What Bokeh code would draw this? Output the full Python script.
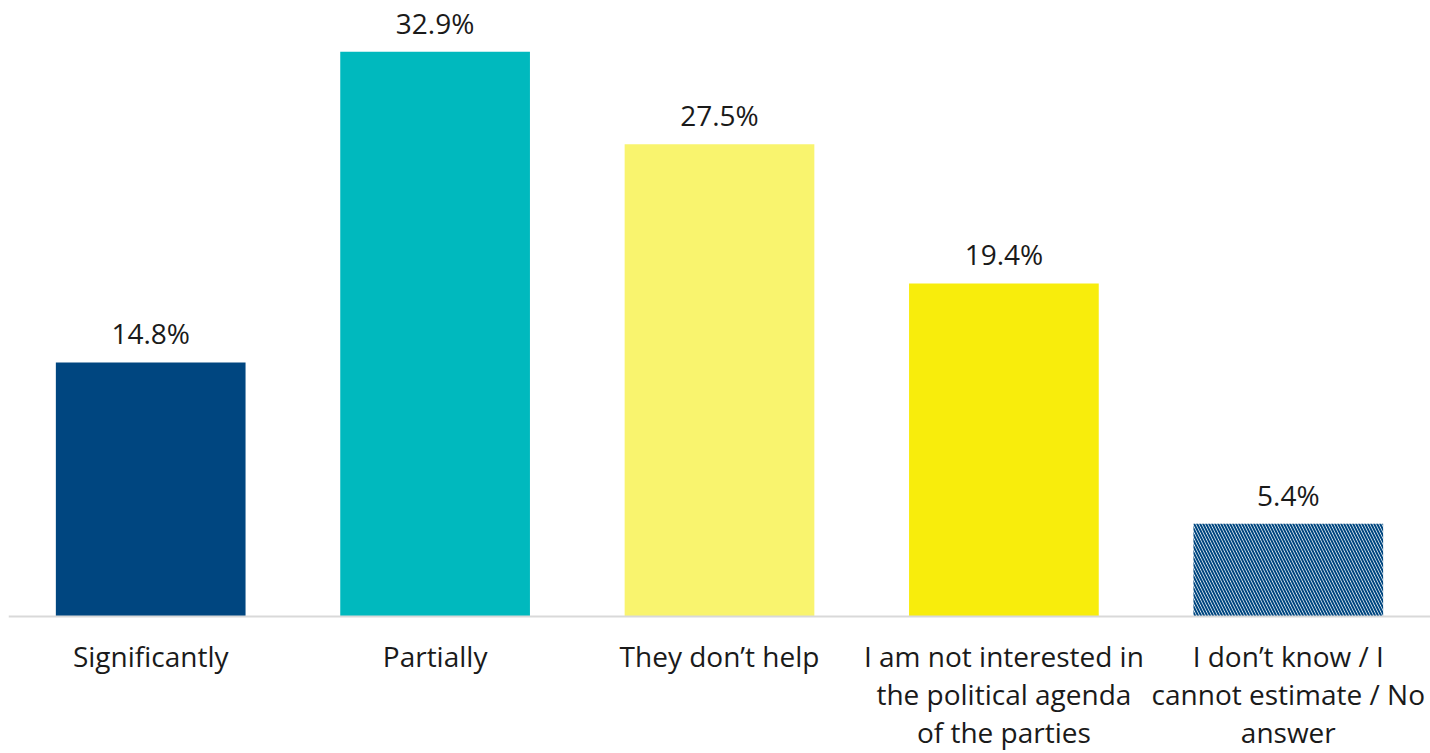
from bokeh.plotting import figure
from bokeh.models import ColumnDataSource, Range1d, Span
from bokeh.core.properties import value
from bokeh.embed import file_html
from bokeh.resources import INLINE

categories = ["Significantly", "Partially", "They don\u2019t help",
              "I am not interested in the political agenda of the parties",
              "I don\u2019t know / I cannot estimate / No answer"]
tick_labels = ["Significantly", "Partially", "They don\u2019t help",
               "I am not interested in\nthe political agenda\nof the parties",
               "I don\u2019t know / I\ncannot estimate / No\nanswer"]
values = [14.8, 32.9, 27.5, 19.4, 5.4]
value_labels = ["14.8%", "32.9%", "27.5%", "19.4%", "5.4%"]
colors = ["#004680", "#00B9BE", "#F9F46E", "#F8ED0C", "#FFFFFF"]
hatches = [" ", " ", " ", " ", "\\"]

FONT = "Open Sans"

src = ColumnDataSource(dict(cat=categories, val=values, lab=value_labels,
                            tick=tick_labels, zero=[0] * len(values),
                            col=colors, hat=hatches))

p = figure(x_range=categories, y_range=Range1d(-7.98, 35.88),
           width=1430, height=753,
           output_backend="svg", toolbar_location=None,
           min_border_left=8, min_border_right=0, min_border_top=0, min_border_bottom=0)

p.vbar(x="cat", top="val", width=0.667, source=src, fill_color="col",
       line_color=None, hatch_pattern="hat", hatch_color="#004680",
       hatch_scale=6, hatch_weight=2.0)

p.add_layout(Span(location=0, dimension="width", line_color="#D9D9D9", line_width=2))

p.text(x="cat", y="val", text="lab", source=src, text_align="center",
       text_baseline="bottom", y_offset=-10, text_font=value(FONT),
       text_font_size="28px", text_color="#1a1a1a")

p.text(x="cat", y="zero", text="tick", source=src, text_align="center",
       text_baseline="top", y_offset=21, text_font=value(FONT),
       text_font_size="28px", text_color="#1a1a1a", text_line_height=1.0)

p.outline_line_color = None
p.grid.visible = False
p.axis.visible = False
p.background_fill_color = "white"
p.border_fill_color = "white"

open("out.html", "w").write(file_html(p, INLINE))
